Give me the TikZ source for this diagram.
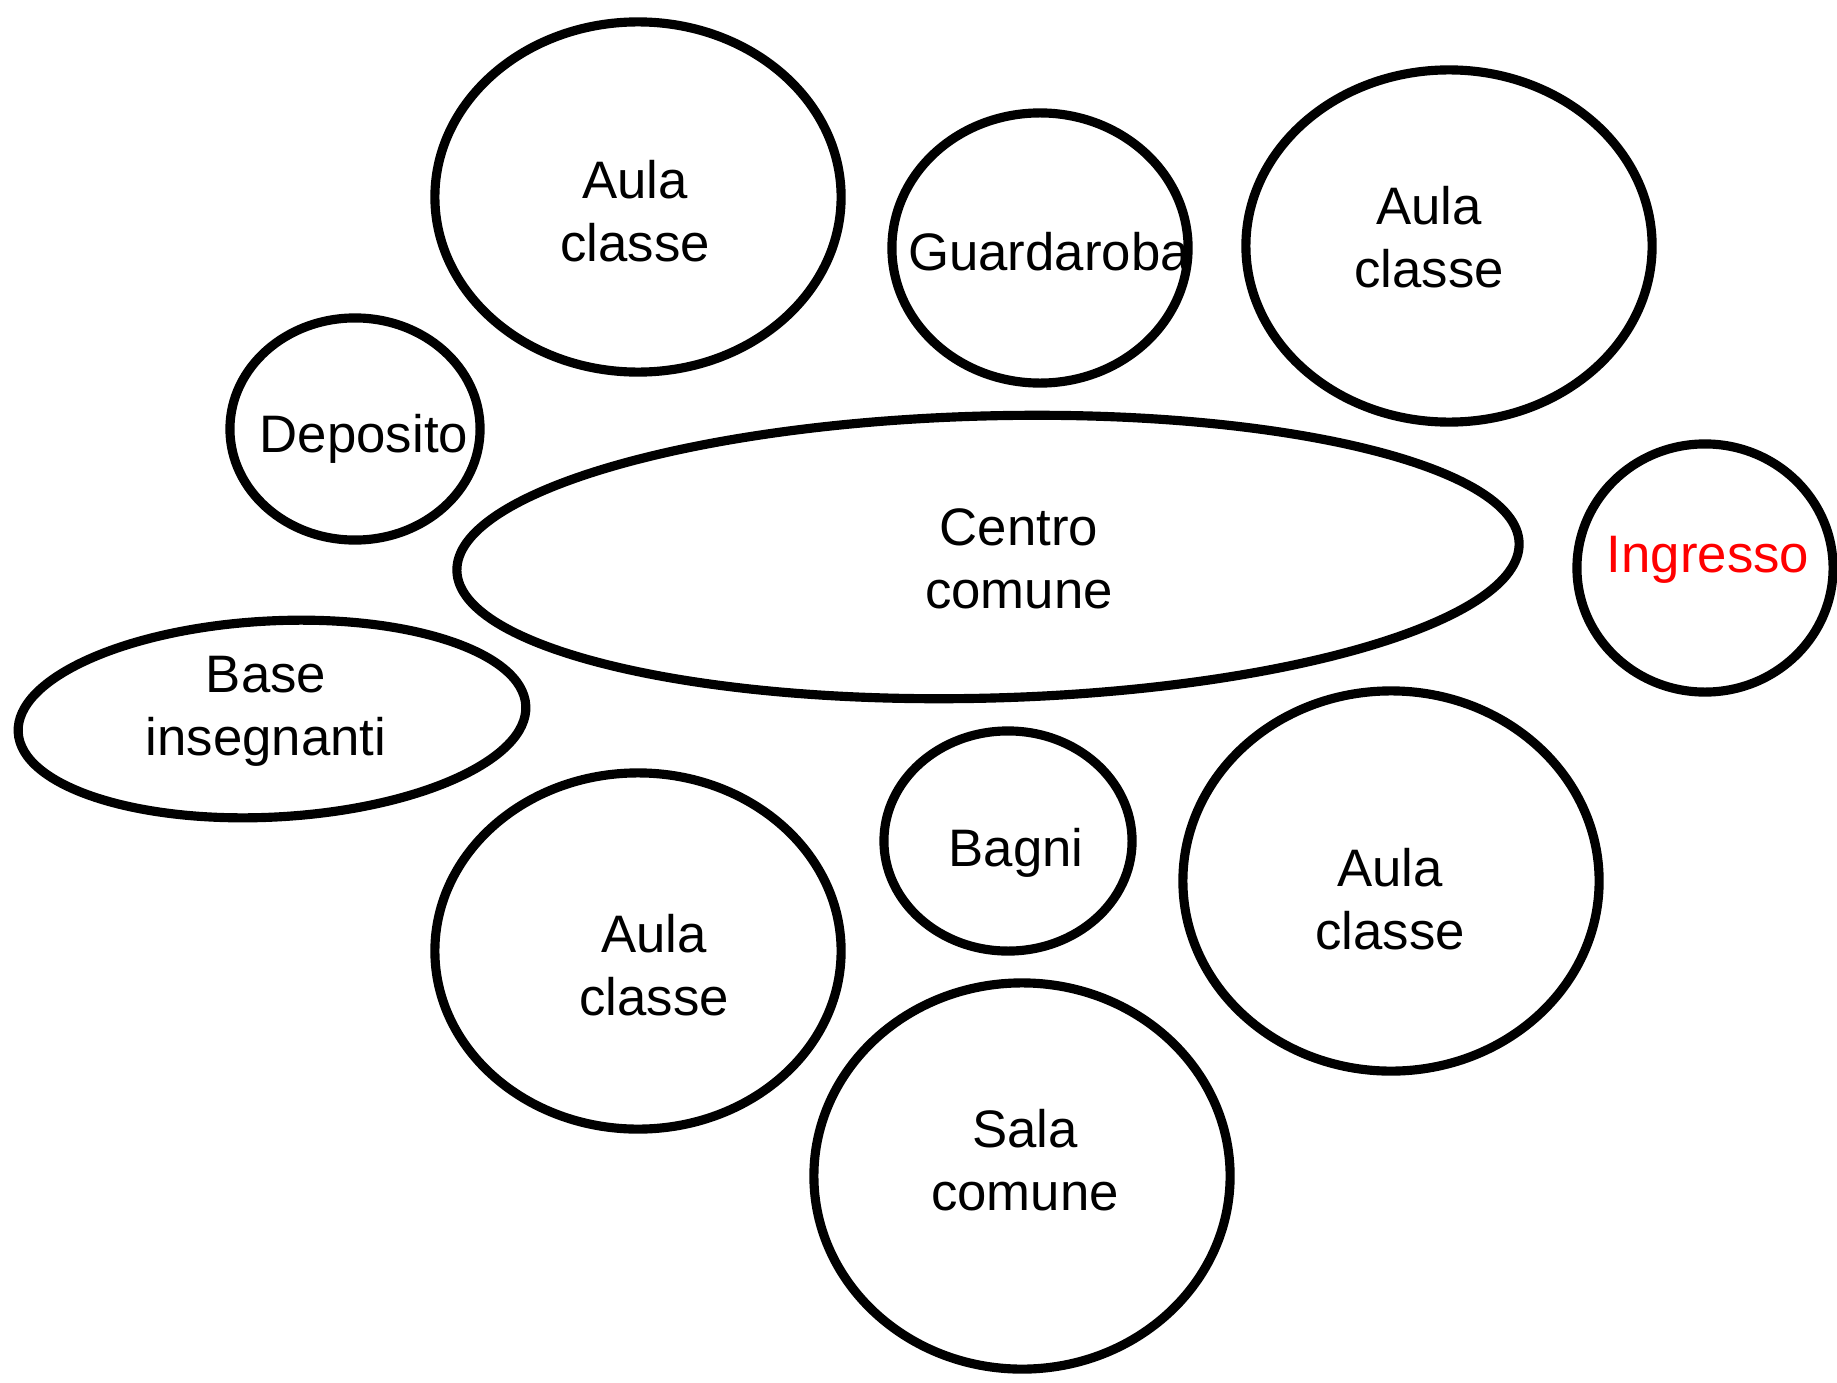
\documentclass[tikz,border=0pt]{standalone}
\usepackage{fontspec}
\setmainfont{Liberation Sans}
\usetikzlibrary{shapes.geometric}

\begin{document}
\begin{tikzpicture}[x=0.01cm,y=-0.01cm,
	room/.style={draw,ellipse,line width=2.6pt,inner sep=0pt},
	lbl/.style={align=center,font=\fontsize{15}{18}\selectfont}]
	\useasboundingbox (0,0) rectangle (1837,1382);
	\node[room,minimum width=4.06cm,minimum height=3.50cm] (aula_1) at (638,197) {};
	\node[room,minimum width=2.96cm,minimum height=2.70cm] (guard) at (1040,248) {};
	\node[room,minimum width=4.06cm,minimum height=3.52cm] (aula_2) at (1449,246) {};
	\node[room,minimum width=2.50cm,minimum height=2.22cm] (depo) at (355,429) {};
	\node[room,minimum width=10.62cm,minimum height=2.82cm,rotate=1.5] (centro) at (988,557) {};
	\node[room,minimum width=2.56cm,minimum height=2.48cm] (ingr) at (1705,568) {};
	\node[room,minimum width=5.08cm,minimum height=1.96cm,rotate=3] (base) at (272,719) {};
	\node[room,minimum width=4.06cm,minimum height=3.56cm] (aula_3) at (638,951) {};
	\node[room,minimum width=2.48cm,minimum height=2.20cm] (bagni) at (1008,841) {};
	\node[room,minimum width=4.16cm,minimum height=3.80cm] (aula_4) at (1391,881) {};
	\node[room,minimum width=4.16cm,minimum height=3.86cm] (sala) at (1022,1176) {};
	\node[lbl] (aula_1_t) at (635,211) {Aula\\classe};
	\node[lbl] (guard_t) at (1049,252) {Guardaroba};
	\node[lbl] (aula_2_t) at (1429,237) {Aula\\classe};
	\node[lbl] (depo_t) at (364,439) {Deposito};
	\node[lbl] (centro_t) at (1019,559) {Centro\\comune};
	\node[lbl,text=red] (ingr_t) at (1708,560) {Ingresso};
	\node[lbl] (base_t) at (266,711) {Base\\insegnanti};
	\node[lbl] (aula_3_t) at (654,965) {Aula\\classe};
	\node[lbl] (bagni_t) at (1016,853) {Bagni};
	\node[lbl] (aula_4_t) at (1390,899) {Aula\\classe};
	\node[lbl] (sala_t) at (1025,1160) {Sala\\comune};
\end{tikzpicture}
\end{document}
